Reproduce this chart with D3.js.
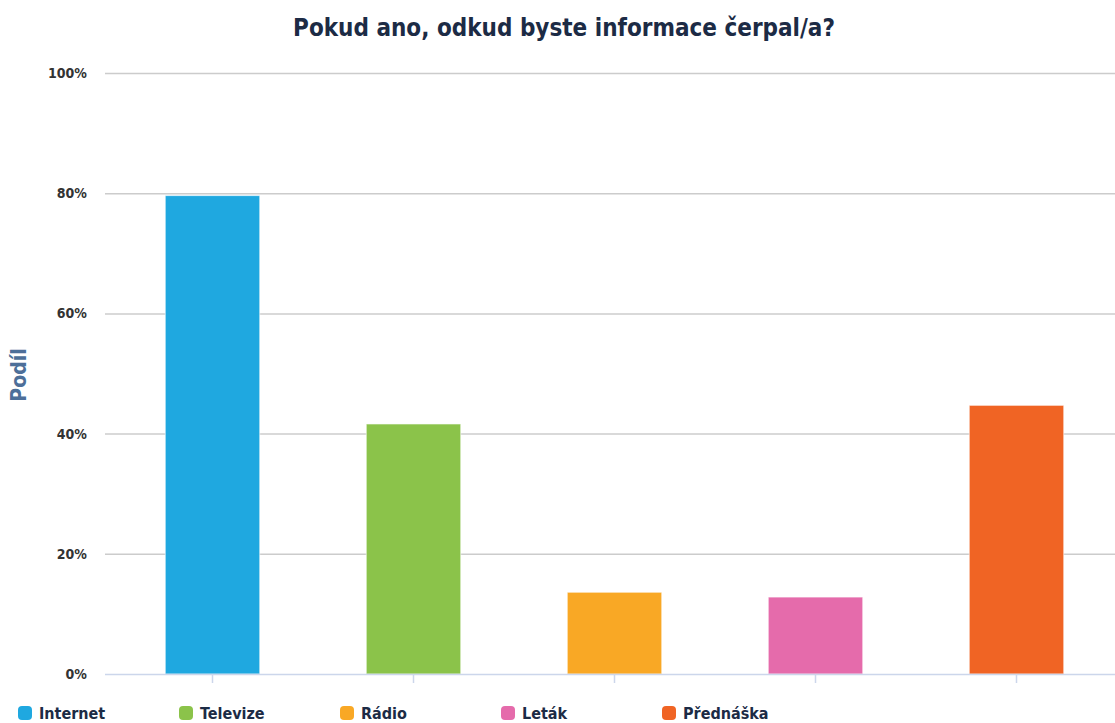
<!DOCTYPE html>
<html><head><meta charset="utf-8">
<script src="https://cdn.jsdelivr.net/npm/d3@7"></script>
<style>body{margin:0;background:#fff}svg{display:block}</style>
</head><body><svg id="c" width="1115" height="723"></svg>
<script>
const categories = ["Internet","Televize","Rádio","Leták","Přednáška"];
const values = [79.6, 41.6, 13.6, 12.8, 44.7];
const colors = ["#1fa8e0","#8bc34a","#f9a825","#e56bab","#f06424"];
const yTicks = [0,20,40,60,80,100];
const title = "Pokud ano, odkud byste informace čerpal/a?";
const yTitle = "Podíl";

const svg = d3.select("#c");
const font = "'DejaVu Sans Condensed','DejaVu Sans',sans-serif";
const x = d3.scaleBand().domain(categories).range([112,1117]).paddingInner(0.53).paddingOuter(0.265);
const y = d3.scaleLinear().domain([0,100]).range([674,73]);

svg.append("text").attr("x",564).attr("y",36).attr("text-anchor","middle")
  .attr("font-family",font).attr("font-weight","bold").attr("font-size",24).attr("fill","#1c2b45").text(title);

// gridlines
svg.append("g").selectAll("line").data(yTicks.filter(d=>d>0)).join("line")
  .attr("x1",105).attr("x2",1115).attr("y1",d=>y(d)+0.5).attr("y2",d=>y(d)+0.5)
  .attr("stroke","#cccccc").attr("stroke-width",1.5);

// y labels
svg.append("g").selectAll("text").data(yTicks).join("text")
  .attr("x",87).attr("y",d=>y(d)).attr("dy","0.35em").attr("text-anchor","end")
  .attr("font-family",font).attr("font-weight","bold").attr("font-size",14).attr("fill","#333")
  .text(d=>d+"%");

svg.append("text").attr("transform","translate(26,375) rotate(-90)").attr("text-anchor","middle")
  .attr("font-family",font).attr("font-weight","bold").attr("font-size",21).attr("fill","#4d6f99").text(yTitle);

// bars
svg.append("g").selectAll("rect").data(categories).join("rect")
  .attr("x",d=>x(d)).attr("width",x.bandwidth())
  .attr("y",(d,i)=>y(values[i])).attr("height",(d,i)=>y(0)-y(values[i]))
  .attr("fill",(d,i)=>colors[i]).attr("stroke","rgba(255,255,255,0.6)").attr("stroke-width",1);

// x axis
const xa = svg.append("g").attr("transform","translate(0,674)");
xa.append("line").attr("x1",105).attr("x2",1115).attr("y1",0.5).attr("y2",0.5).attr("stroke","#ccd6eb").attr("stroke-width",1.5);
xa.selectAll(".t").data(categories).join("line").attr("class","t")
  .attr("x1",d=>x(d)+x.bandwidth()/2).attr("x2",d=>x(d)+x.bandwidth()/2)
  .attr("y1",0).attr("y2",9).attr("stroke","#ccd6eb").attr("stroke-width",1.5);

// legend
const lg = svg.append("g").selectAll("g").data(categories).join("g")
  .attr("transform",(d,i)=>`translate(${18+i*161},713)`);
lg.append("rect").attr("x",0).attr("y",-7).attr("width",14).attr("height",14).attr("rx",4)
  .attr("fill",(d,i)=>colors[i]);
lg.append("text").attr("x",21).attr("y",0).attr("dy","0.35em")
  .attr("font-family",font).attr("font-weight","bold").attr("font-size",16).attr("fill","#1c2b45").text(d=>d);
</script></body></html>
